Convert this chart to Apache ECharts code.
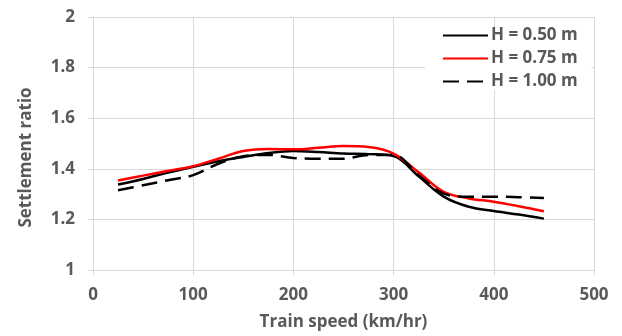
<!DOCTYPE html>
<html>
<head>
<meta charset="utf-8">
<script src="https://cdn.jsdelivr.net/npm/echarts@6/dist/echarts.min.js"></script>
<style>
  html, body { margin: 0; padding: 0; background: #fff; }
  #chart { width: 622px; height: 336px; }
</style>
</head>
<body>
<div id="chart"></div>
<script>
// speeds (km/hr)
var speeds = [25, 50, 75, 100, 125, 150, 175, 200, 225, 250, 275, 300, 325, 350, 375, 400, 425, 450];

var h050 = [1.338, 1.36, 1.385, 1.408, 1.43, 1.447, 1.462, 1.47, 1.466, 1.46, 1.458, 1.45, 1.37, 1.29, 1.25, 1.233, 1.219, 1.203];
var h075 = [1.354, 1.373, 1.392, 1.41, 1.44, 1.47, 1.478, 1.477, 1.483, 1.49, 1.486, 1.46, 1.386, 1.309, 1.283, 1.27, 1.252, 1.232];
var h100 = [1.315, 1.335, 1.355, 1.375, 1.42, 1.45, 1.455, 1.443, 1.44, 1.44, 1.455, 1.455, 1.375, 1.302, 1.29, 1.29, 1.288, 1.285];

var seriesNames = ['H = 0.50 m', 'H = 0.75 m', 'H = 1.00 m'];
var xTicks = [0, 100, 200, 300, 400, 500];
var yTicks = [1, 1.2, 1.4, 1.6, 1.8, 2];

function pairs(vals) {
  var out = [];
  for (var i = 0; i < speeds.length; i++) {
    out.push([speeds[i], vals[i]]);
  }
  return out;
}

var textColor = '#595959';
var gridColor = '#d9d9d9';
var font = 'Open Sans';

var chart = echarts.init(document.getElementById('chart'));
chart.setOption({
  animation: false,
  backgroundColor: '#fff',
  grid: { left: 93, right: 28, top: 17, bottom: 59, containLabel: false },
  legend: {
    orient: 'vertical',
    left: 425,
    top: 27,
    padding: [0, 14, 0, 17],
    backgroundColor: '#fff',
    itemWidth: 45,
    itemHeight: 18,
    itemGap: 6,
    data: seriesNames,
    itemStyle: { opacity: 0 },
    textStyle: { color: textColor, fontSize: 17, fontWeight: 700, fontFamily: font, padding: [0, 0, 0, -2] }
  },
  xAxis: {
    type: 'value',
    min: xTicks[0],
    max: xTicks[xTicks.length - 1],
    interval: 100,
    name: 'Train speed (km/hr)',
    nameLocation: 'middle',
    nameGap: 44,
    nameTextStyle: { color: textColor, fontSize: 17, fontWeight: 'bold', fontFamily: font },
    axisLine: { show: true, lineStyle: { color: gridColor, width: 1 } },
    axisTick: { show: true, length: 5, lineStyle: { color: gridColor } },
    axisLabel: { color: textColor, fontSize: 17, fontWeight: 'bold', fontFamily: font, margin: 17 },
    splitLine: { show: true, lineStyle: { color: gridColor, width: 1 } }
  },
  yAxis: {
    type: 'value',
    min: yTicks[0],
    max: yTicks[yTicks.length - 1],
    interval: 0.2,
    name: 'Settlement ratio',
    nameLocation: 'middle',
    nameGap: 58,
    nameTextStyle: { color: textColor, fontSize: 17, fontWeight: 'bold', fontFamily: font, padding: [0, 28, 0, 0] },
    axisLine: { show: true, lineStyle: { color: gridColor, width: 1 } },
    axisTick: { show: true, length: 5, lineStyle: { color: gridColor } },
    axisLabel: {
      color: textColor, fontSize: 17, fontWeight: 'bold', fontFamily: font, margin: 18,
      formatter: function (v) { return String(Math.round(v * 10) / 10); }
    },
    splitLine: { show: true, lineStyle: { color: gridColor, width: 1 } }
  },
  series: [
    {
      name: seriesNames[0], type: 'line', data: pairs(h050), smooth: 0.35,
      symbol: 'none', lineStyle: { color: '#000', width: 2.5 }, itemStyle: { color: '#000' }
    },
    {
      name: seriesNames[1], type: 'line', data: pairs(h075), smooth: 0.35,
      symbol: 'none', lineStyle: { color: '#ff0000', width: 2.5 }, itemStyle: { color: '#ff0000' }
    },
    {
      name: seriesNames[2], type: 'line', data: pairs(h100), smooth: 0.35,
      symbol: 'none', lineStyle: { color: '#000', width: 2.5, type: [16, 8] }, itemStyle: { color: '#000' }
    }
  ]
});
</script>
</body>
</html>
